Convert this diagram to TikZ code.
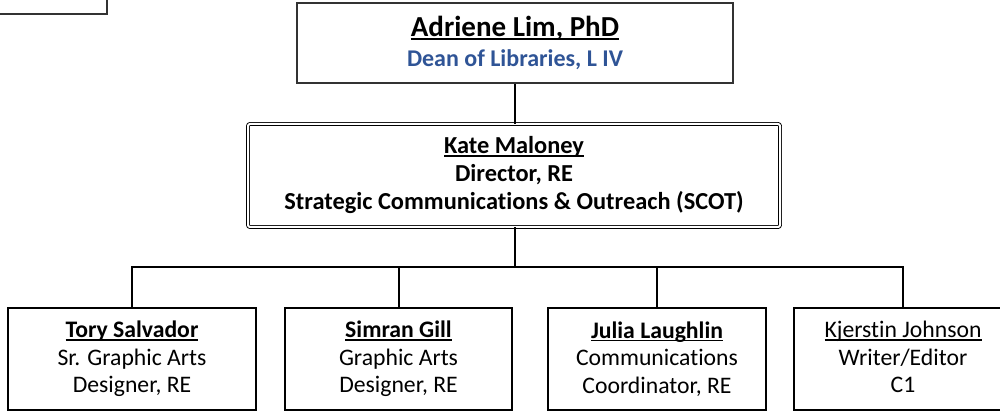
\documentclass[tikz,border=0pt]{standalone}
\usepackage{fontspec}
\setmainfont{Carlito}[Ligatures=NoCommon]
\definecolor{deanblue}{HTML}{2F5496}
\definecolor{boxgray}{HTML}{333333}
\newcommand\myul[1]{\setbox0\hbox{#1}\rlap{\rule[-0.13em]{\wd0}{0.075em}}\box0}
\tikzset{
  person/.style={draw=black, line width=1.5pt, rectangle, align=center, inner sep=0pt, minimum height=102pt},
  link/.style={draw=black, line width=2pt},
  bottomfont/.style={font=\fontsize{23.7}{27.5}\selectfont},
}
\begin{document}
\begin{tikzpicture}[x=1pt,y=-1pt]
\useasboundingbox (0,0) rectangle (1000,411);
\begin{scope}
\clip (0,0) rectangle (1000,411);
% partial box at top-left
\draw[draw=boxgray, line width=2.5pt] (-20,-20) rectangle (107,14);
% top box
\node[draw=boxgray, line width=1.5pt, rectangle, minimum width=436pt, minimum height=80pt, inner sep=0pt, align=center] (dean) at (515,43) {};
\node[font=\fontsize{29}{32}\selectfont\bfseries] (deanname) at (515,28) {\myul{Adriene Lim, PhD}};
\node[font=\fontsize{24}{28}\selectfont\bfseries, text=deanblue] (deantitle) at (515,60) {Dean of Libraries, L IV};
% director box
\node[draw=black, double=white, double distance=2pt, line width=0.9pt, rounded corners=2pt, rectangle, minimum width=532pt, minimum height=103pt, inner sep=0pt] (kate) at (514,175.5) {};
\node[font=\fontsize{24.4}{28}\selectfont\bfseries, align=center] (katetext) at (514,175) {\myul{Kate Maloney}\\Director, RE\\Strategic Communications \& Outreach (SCOT)};
% bottom boxes
\node[person, minimum width=248pt, bottomfont] (b1) at (132,359) {\textbf{\myul{Tory Salvador}}\\Sr. Graphic Arts\\Designer, RE};
\node[person, minimum width=227pt, bottomfont] (b2) at (398.5,359) {\textbf{\myul{Simran Gill}}\\Graphic Arts\\Designer, RE};
\node[person, minimum width=218pt, bottomfont] (b3) at (657,359) {\textbf{\myul{Julia Laughlin}}\\Communications\\Coordinator, RE};
\node[person, minimum width=218pt, bottomfont] (b4) at (903,359) {\myul{Kjerstin Johnson}\\Writer/Editor\\C1\vphantom{g}};
% connectors
\coordinate (bus) at (515,267);
\draw[link] (dean.south) -- (dean.south |- kate.north);
\draw[link] (kate.south -| bus) -- (bus);
\draw[link] (b1.north) |- (bus) -| (b4.north);
\draw[link] (b2.north) -- (b2.north |- bus);
\draw[link] (b3.north) -- (b3.north |- bus);
\end{scope}
\end{tikzpicture}
\end{document}
